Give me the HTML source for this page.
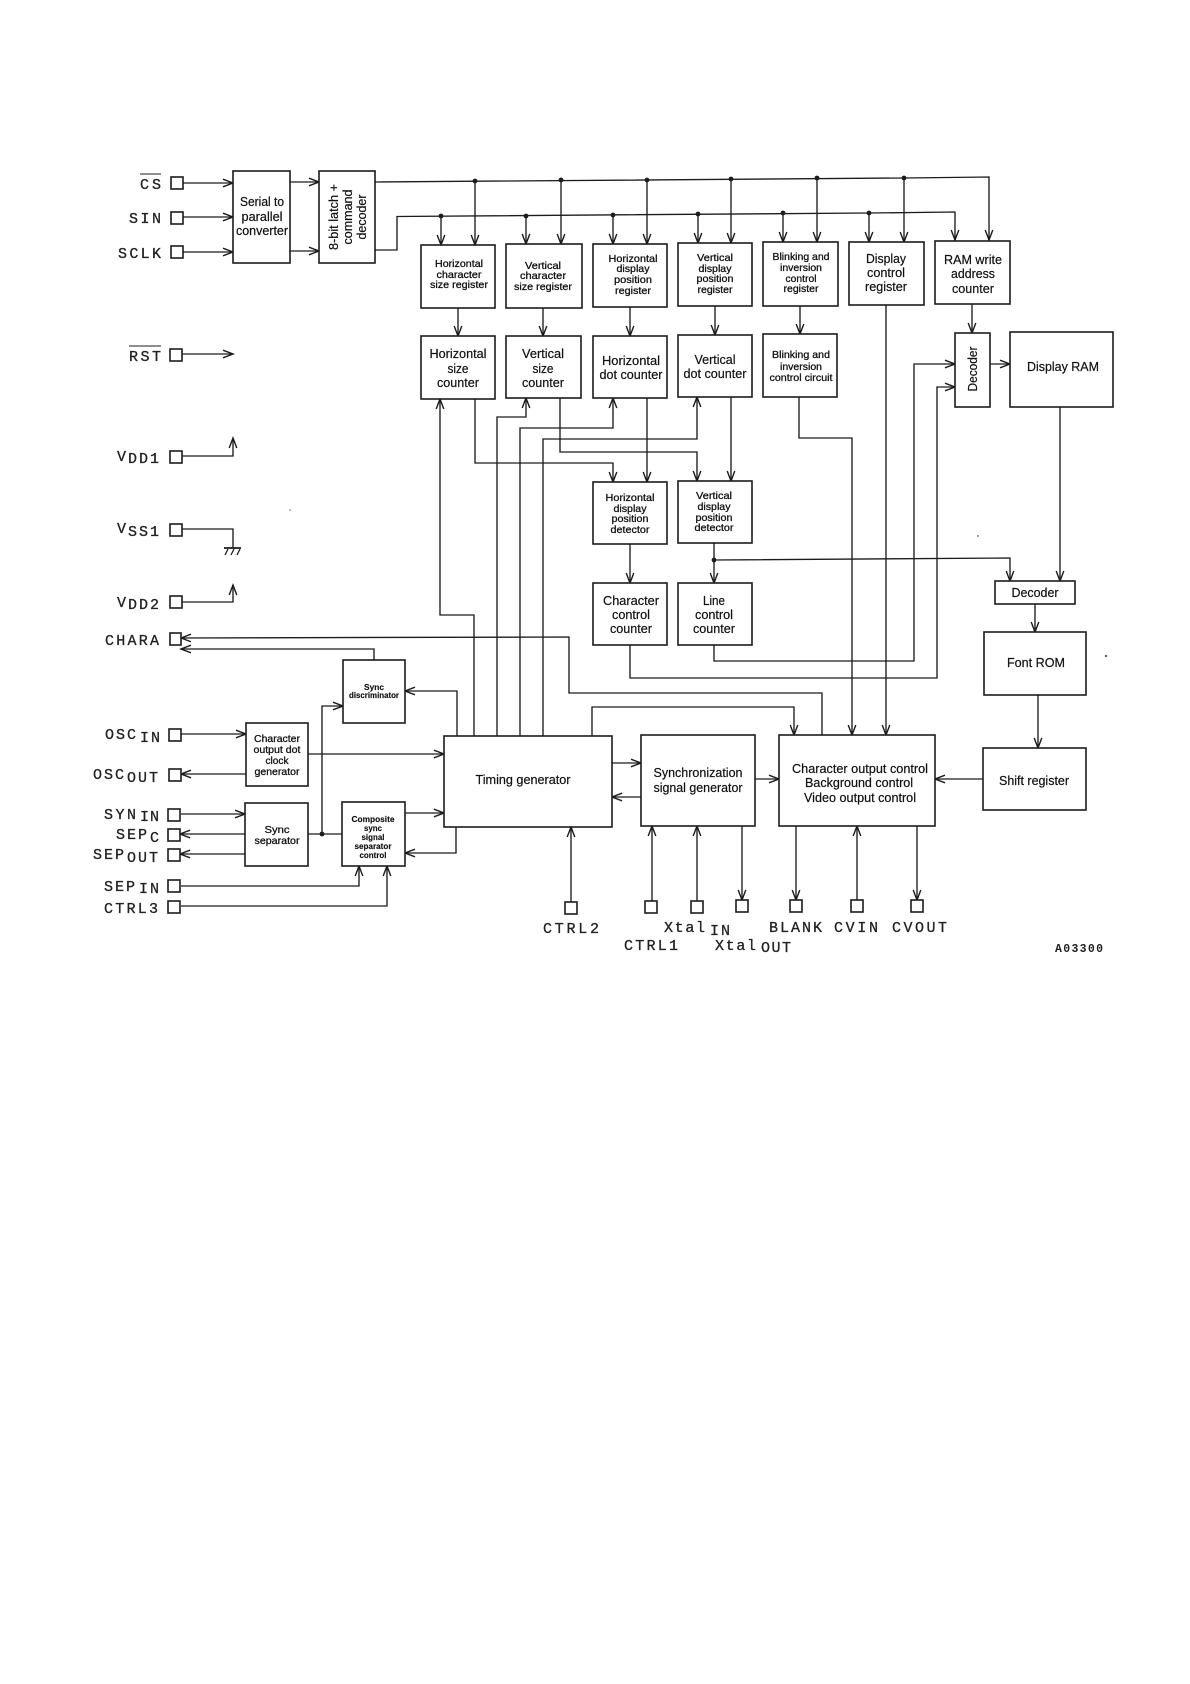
<!DOCTYPE html>
<html>
<head>
<meta charset="utf-8">
<style>
html,body{margin:0;padding:0;background:#fff}
svg{display:block}
.l{fill:none;stroke:#1c1c1c;stroke-width:1.35}
.b{fill:#fff;stroke:#1c1c1c;stroke-width:1.6}
.p{fill:#fff;stroke:#1c1c1c;stroke-width:1.6}
text{font-family:"Liberation Sans",sans-serif;fill:#111;text-anchor:middle}
.a{font-size:12.5px;stroke:#111;stroke-width:.2}
.m{font-size:10.5px;stroke:#111;stroke-width:.3}
.s{font-size:8.5px;font-weight:bold;stroke:#111;stroke-width:.15}
.t{font-family:"Liberation Mono",monospace;font-size:15px;text-anchor:start;fill:#222;stroke:#222;stroke-width:.3}
.z{font-family:"Liberation Mono",monospace;font-size:11.5px;font-weight:bold;text-anchor:start;fill:#222}
</style>
</head>
<body>
<svg xmlns="http://www.w3.org/2000/svg" width="1190" height="1684" viewBox="0 0 1190 1684">
<defs>
<marker id="A" markerUnits="userSpaceOnUse" markerWidth="14" markerHeight="12" refX="11" refY="6" orient="auto">
<path d="M1,2.2 L11,6 L1,9.8" fill="none" stroke="#1c1c1c" stroke-width="1.4"/>
</marker>
</defs>
<rect width="1190" height="1684" fill="#fff"/>

<!-- connectors -->
<g class="l">
<path d="M183,183H233" marker-end="url(#A)"/>
<path d="M183,217H233" marker-end="url(#A)"/>
<path d="M183,252H233" marker-end="url(#A)"/>
<path d="M182,354H233" marker-end="url(#A)"/>
<path d="M290,182H319" marker-end="url(#A)"/>
<path d="M290,251H319" marker-end="url(#A)"/>
<path d="M375,182L904,178L989,177V240" marker-end="url(#A)"/>
<path d="M375,250H397V216.500L869,213L955,212V240" marker-end="url(#A)"/>
<path d="M475,181V245" marker-end="url(#A)"/>
<path d="M441,216V245" marker-end="url(#A)"/>
<path d="M561,180V244" marker-end="url(#A)"/>
<path d="M526,216V244" marker-end="url(#A)"/>
<path d="M647,180V244" marker-end="url(#A)"/>
<path d="M613,215V244" marker-end="url(#A)"/>
<path d="M731,179V243" marker-end="url(#A)"/>
<path d="M698,214V243" marker-end="url(#A)"/>
<path d="M817,178V242" marker-end="url(#A)"/>
<path d="M783,213V242" marker-end="url(#A)"/>
<path d="M904,178V242" marker-end="url(#A)"/>
<path d="M869,213V242" marker-end="url(#A)"/>
<path d="M458,308V336" marker-end="url(#A)"/>
<path d="M543,308V336" marker-end="url(#A)"/>
<path d="M630,307V336" marker-end="url(#A)"/>
<path d="M715,306V335" marker-end="url(#A)"/>
<path d="M800,306V334" marker-end="url(#A)"/>
<path d="M972,304V333" marker-end="url(#A)"/>

<path d="M474,736V615H440V399" marker-end="url(#A)"/>
<path d="M475,399V463H613V482" marker-end="url(#A)"/>
<path d="M497,736V417H526V398" marker-end="url(#A)"/>
<path d="M560,398V452H697V481" marker-end="url(#A)"/>
<path d="M520,736V428H613V398" marker-end="url(#A)"/>
<path d="M647,398V482" marker-end="url(#A)"/>
<path d="M543,736V439H697V397" marker-end="url(#A)"/>
<path d="M731,397V481" marker-end="url(#A)"/>
<path d="M799,397V438H852V735" marker-end="url(#A)"/>
<path d="M886,305V735" marker-end="url(#A)"/>
<path d="M630,544V583" marker-end="url(#A)"/>
<path d="M714,543V583" marker-end="url(#A)"/>
<path d="M714,560L1010,558V581" marker-end="url(#A)"/>
<path d="M1060,407V581" marker-end="url(#A)"/>
<path d="M1035,604V632" marker-end="url(#A)"/>
<path d="M1038,695V748" marker-end="url(#A)"/>
<path d="M983,779H935" marker-end="url(#A)"/>
<path d="M630,645V678H937V387H955" marker-end="url(#A)"/>
<path d="M714,645V661H914V364H955" marker-end="url(#A)"/>
<path d="M990,364H1010" marker-end="url(#A)"/>

<path d="M822,735V693H569V637L181,638" marker-end="url(#A)"/>
<path d="M374,660V649H181" marker-end="url(#A)"/>
<path d="M457,736V691H405" marker-end="url(#A)"/>
<path d="M322,834V706H343" marker-end="url(#A)"/>
<path d="M592,736V707H794V735" marker-end="url(#A)"/>

<path d="M181,734H246" marker-end="url(#A)"/>
<path d="M246,774H181" marker-end="url(#A)"/>
<path d="M181,814H245" marker-end="url(#A)"/>
<path d="M245,834H180" marker-end="url(#A)"/>
<path d="M245,854H180" marker-end="url(#A)"/>
<path d="M181,886H359V866" marker-end="url(#A)"/>
<path d="M181,906H387V866" marker-end="url(#A)"/>
<path d="M308,754H444" marker-end="url(#A)"/>
<path d="M405,813H444" marker-end="url(#A)"/>
<path d="M456,827V853H405" marker-end="url(#A)"/>
<path d="M308,834H342"/>
<path d="M612,763H641" marker-end="url(#A)"/>
<path d="M641,797H612" marker-end="url(#A)"/>
<path d="M755,779H779" marker-end="url(#A)"/>

<path d="M571,902V827" marker-end="url(#A)"/>
<path d="M652,901V826" marker-end="url(#A)"/>
<path d="M697,901V826" marker-end="url(#A)"/>
<path d="M742,826V900" marker-end="url(#A)"/>
<path d="M796,826V900" marker-end="url(#A)"/>
<path d="M857,900V826" marker-end="url(#A)"/>
<path d="M917,826V900" marker-end="url(#A)"/>

<path d="M182,456H233V438" marker-end="url(#A)"/>
<path d="M182,602H233V585" marker-end="url(#A)"/>
<path d="M182,529H233V548"/>
<path d="M224,548H241" stroke-width="1.8"/>
<path d="M228,549L225,555M234,549L231,555M240,549L237,555" stroke-width="1.3"/>
<path d="M140,174H161M129,346H161" stroke-width="1.1"/>
</g>

<!-- junctions -->
<g fill="#1c1c1c">
<circle cx="475" cy="181" r="2.4"/><circle cx="561" cy="180" r="2.4"/><circle cx="647" cy="180" r="2.4"/>
<circle cx="731" cy="179" r="2.4"/><circle cx="817" cy="178" r="2.4"/><circle cx="904" cy="178" r="2.4"/>
<circle cx="441" cy="216" r="2.4"/><circle cx="526" cy="216" r="2.4"/><circle cx="613" cy="215" r="2.4"/>
<circle cx="698" cy="214" r="2.4"/><circle cx="783" cy="213" r="2.4"/><circle cx="869" cy="213" r="2.4"/>
<circle cx="714" cy="560" r="2.4"/><circle cx="322" cy="834" r="2.4"/>
<circle cx="1106" cy="656" r="1"/><circle cx="978" cy="536" r="0.7"/><circle cx="290" cy="510" r="0.6"/>
</g>

<!-- boxes -->
<g class="b">
<rect x="233" y="171" width="57" height="92"/>
<rect x="319" y="171" width="56" height="92"/>
<rect x="421" y="245" width="74" height="63"/>
<rect x="506" y="244" width="76" height="64"/>
<rect x="593" y="244" width="74" height="63"/>
<rect x="678" y="243" width="74" height="63"/>
<rect x="763" y="242" width="75" height="64"/>
<rect x="849" y="242" width="75" height="63"/>
<rect x="935" y="241" width="75" height="63"/>
<rect x="421" y="336" width="74" height="63"/>
<rect x="506" y="336" width="75" height="62"/>
<rect x="593" y="336" width="74" height="62"/>
<rect x="678" y="335" width="74" height="62"/>
<rect x="763" y="334" width="74" height="63"/>
<rect x="955" y="333" width="35" height="74"/>
<rect x="1010" y="332" width="103" height="75"/>
<rect x="593" y="482" width="74" height="62"/>
<rect x="678" y="481" width="74" height="62"/>
<rect x="593" y="583" width="74" height="62"/>
<rect x="678" y="583" width="74" height="62"/>
<rect x="995" y="581" width="80" height="23"/>
<rect x="984" y="632" width="102" height="63"/>
<rect x="983" y="748" width="103" height="62"/>
<rect x="343" y="660" width="62" height="63"/>
<rect x="246" y="723" width="62" height="63"/>
<rect x="245" y="803" width="63" height="63"/>
<rect x="342" y="802" width="63" height="64"/>
<rect x="444" y="736" width="168" height="91"/>
<rect x="641" y="735" width="114" height="91"/>
<rect x="779" y="735" width="156" height="91"/>
</g>

<!-- pads -->
<g class="p">
<rect x="171" y="177" width="12" height="12"/>
<rect x="171" y="212" width="12" height="12"/>
<rect x="171" y="246" width="12" height="12"/>
<rect x="170" y="349" width="12" height="12"/>
<rect x="170" y="451" width="12" height="12"/>
<rect x="170" y="524" width="12" height="12"/>
<rect x="170" y="596" width="12" height="12"/>
<rect x="170" y="633" width="11" height="12"/>
<rect x="169" y="729" width="12" height="12"/>
<rect x="169" y="769" width="12" height="12"/>
<rect x="168" y="809" width="12" height="12"/>
<rect x="168" y="829" width="12" height="12"/>
<rect x="168" y="849" width="12" height="12"/>
<rect x="168" y="880" width="12" height="12"/>
<rect x="168" y="901" width="12" height="12"/>
<rect x="565" y="902" width="12" height="12"/>
<rect x="645" y="901" width="12" height="12"/>
<rect x="691" y="901" width="12" height="12"/>
<rect x="736" y="900" width="12" height="12"/>
<rect x="790" y="900" width="12" height="12"/>
<rect x="851" y="900" width="12" height="12"/>
<rect x="911" y="900" width="12" height="12"/>
</g>

<!-- box text -->
<g>
<text class="a" x="262" y="206" textLength="44" lengthAdjust="spacingAndGlyphs">Serial to</text>
<text class="a" x="262" y="221" textLength="41" lengthAdjust="spacingAndGlyphs">parallel</text>
<text class="a" x="262" y="235" textLength="52" lengthAdjust="spacingAndGlyphs">converter</text>
<text class="a" transform="translate(338,217) rotate(-90)" textLength="66" lengthAdjust="spacingAndGlyphs">8-bit latch +</text>
<text class="a" transform="translate(352,217) rotate(-90)" textLength="55" lengthAdjust="spacingAndGlyphs">command</text>
<text class="a" transform="translate(366,217) rotate(-90)" textLength="45" lengthAdjust="spacingAndGlyphs">decoder</text>

<text class="m" x="459" y="267" textLength="48" lengthAdjust="spacingAndGlyphs">Horizontal</text>
<text class="m" x="459" y="278" textLength="45" lengthAdjust="spacingAndGlyphs">character</text>
<text class="m" x="459" y="288" textLength="58" lengthAdjust="spacingAndGlyphs">size register</text>

<text class="m" x="543" y="269" textLength="36" lengthAdjust="spacingAndGlyphs">Vertical</text>
<text class="m" x="543" y="279" textLength="46" lengthAdjust="spacingAndGlyphs">character</text>
<text class="m" x="543" y="290" textLength="58" lengthAdjust="spacingAndGlyphs">size register</text>

<text class="m" x="633" y="262" textLength="49" lengthAdjust="spacingAndGlyphs">Horizontal</text>
<text class="m" x="633" y="272" textLength="33" lengthAdjust="spacingAndGlyphs">display</text>
<text class="m" x="633" y="283" textLength="38" lengthAdjust="spacingAndGlyphs">position</text>
<text class="m" x="633" y="294" textLength="36" lengthAdjust="spacingAndGlyphs">register</text>

<text class="m" x="715" y="261" textLength="36" lengthAdjust="spacingAndGlyphs">Vertical</text>
<text class="m" x="715" y="272" textLength="33" lengthAdjust="spacingAndGlyphs">display</text>
<text class="m" x="715" y="282" textLength="37" lengthAdjust="spacingAndGlyphs">position</text>
<text class="m" x="715" y="293" textLength="35" lengthAdjust="spacingAndGlyphs">register</text>

<text class="m" x="801" y="260" textLength="57" lengthAdjust="spacingAndGlyphs">Blinking and</text>
<text class="m" x="801" y="271" textLength="42" lengthAdjust="spacingAndGlyphs">inversion</text>
<text class="m" x="801" y="282" textLength="31" lengthAdjust="spacingAndGlyphs">control</text>
<text class="m" x="801" y="292" textLength="35" lengthAdjust="spacingAndGlyphs">register</text>

<text class="a" x="886" y="263" textLength="40" lengthAdjust="spacingAndGlyphs">Display</text>
<text class="a" x="886" y="277" textLength="38" lengthAdjust="spacingAndGlyphs">control</text>
<text class="a" x="886" y="291" textLength="42" lengthAdjust="spacingAndGlyphs">register</text>

<text class="a" x="973" y="264" textLength="58" lengthAdjust="spacingAndGlyphs">RAM write</text>
<text class="a" x="973" y="278" textLength="44" lengthAdjust="spacingAndGlyphs">address</text>
<text class="a" x="973" y="293" textLength="42" lengthAdjust="spacingAndGlyphs">counter</text>

<text class="a" x="458" y="358" textLength="57" lengthAdjust="spacingAndGlyphs">Horizontal</text>
<text class="a" x="458" y="373" textLength="21" lengthAdjust="spacingAndGlyphs">size</text>
<text class="a" x="458" y="387" textLength="42" lengthAdjust="spacingAndGlyphs">counter</text>

<text class="a" x="543" y="358" textLength="42" lengthAdjust="spacingAndGlyphs">Vertical</text>
<text class="a" x="543" y="373" textLength="21" lengthAdjust="spacingAndGlyphs">size</text>
<text class="a" x="543" y="387" textLength="42" lengthAdjust="spacingAndGlyphs">counter</text>

<text class="a" x="631" y="365" textLength="58" lengthAdjust="spacingAndGlyphs">Horizontal</text>
<text class="a" x="631" y="379" textLength="63" lengthAdjust="spacingAndGlyphs">dot counter</text>

<text class="a" x="715" y="364" textLength="41" lengthAdjust="spacingAndGlyphs">Vertical</text>
<text class="a" x="715" y="378" textLength="63" lengthAdjust="spacingAndGlyphs">dot counter</text>

<text class="m" x="801" y="358" textLength="58" lengthAdjust="spacingAndGlyphs">Blinking and</text>
<text class="m" x="801" y="370" textLength="42" lengthAdjust="spacingAndGlyphs">inversion</text>
<text class="m" x="801" y="381" textLength="63" lengthAdjust="spacingAndGlyphs">control circuit</text>

<text class="a" transform="translate(977,369) rotate(-90)" textLength="45" lengthAdjust="spacingAndGlyphs">Decoder</text>
<text class="a" x="1063" y="371" textLength="72" lengthAdjust="spacingAndGlyphs">Display RAM</text>

<text class="m" x="630" y="501" textLength="49" lengthAdjust="spacingAndGlyphs">Horizontal</text>
<text class="m" x="630" y="512" textLength="33" lengthAdjust="spacingAndGlyphs">display</text>
<text class="m" x="630" y="522" textLength="37" lengthAdjust="spacingAndGlyphs">position</text>
<text class="m" x="630" y="533" textLength="39" lengthAdjust="spacingAndGlyphs">detector</text>

<text class="m" x="714" y="499" textLength="36" lengthAdjust="spacingAndGlyphs">Vertical</text>
<text class="m" x="714" y="510" textLength="33" lengthAdjust="spacingAndGlyphs">display</text>
<text class="m" x="714" y="521" textLength="37" lengthAdjust="spacingAndGlyphs">position</text>
<text class="m" x="714" y="531" textLength="39" lengthAdjust="spacingAndGlyphs">detector</text>

<text class="a" x="631" y="605" textLength="56" lengthAdjust="spacingAndGlyphs">Character</text>
<text class="a" x="631" y="619" textLength="38" lengthAdjust="spacingAndGlyphs">control</text>
<text class="a" x="631" y="633" textLength="42" lengthAdjust="spacingAndGlyphs">counter</text>

<text class="a" x="714" y="605" textLength="22" lengthAdjust="spacingAndGlyphs">Line</text>
<text class="a" x="714" y="619" textLength="38" lengthAdjust="spacingAndGlyphs">control</text>
<text class="a" x="714" y="633" textLength="42" lengthAdjust="spacingAndGlyphs">counter</text>

<text class="a" x="1035" y="597" textLength="47" lengthAdjust="spacingAndGlyphs">Decoder</text>
<text class="a" x="1036" y="667" textLength="58" lengthAdjust="spacingAndGlyphs">Font ROM</text>
<text class="a" x="1034" y="785" textLength="70" lengthAdjust="spacingAndGlyphs">Shift register</text>

<text class="s" x="374" y="690" textLength="20" lengthAdjust="spacingAndGlyphs">Sync</text>
<text class="s" x="374" y="698" textLength="50" lengthAdjust="spacingAndGlyphs">discriminator</text>

<text class="m" x="277" y="742" textLength="46" lengthAdjust="spacingAndGlyphs">Character</text>
<text class="m" x="277" y="753" textLength="47" lengthAdjust="spacingAndGlyphs">output dot</text>
<text class="m" x="277" y="764" textLength="23" lengthAdjust="spacingAndGlyphs">clock</text>
<text class="m" x="277" y="775" textLength="45" lengthAdjust="spacingAndGlyphs">generator</text>

<text class="m" x="277" y="833" textLength="25" lengthAdjust="spacingAndGlyphs">Sync</text>
<text class="m" x="277" y="844" textLength="45" lengthAdjust="spacingAndGlyphs">separator</text>

<text class="s" x="373" y="822" textLength="43" lengthAdjust="spacingAndGlyphs">Composite</text>
<text class="s" x="373" y="831" textLength="18" lengthAdjust="spacingAndGlyphs">sync</text>
<text class="s" x="373" y="840" textLength="23" lengthAdjust="spacingAndGlyphs">signal</text>
<text class="s" x="373" y="849" textLength="37" lengthAdjust="spacingAndGlyphs">separator</text>
<text class="s" x="373" y="858" textLength="27" lengthAdjust="spacingAndGlyphs">control</text>

<text class="a" x="523" y="784" textLength="95" lengthAdjust="spacingAndGlyphs">Timing generator</text>
<text class="a" x="698" y="777" textLength="89" lengthAdjust="spacingAndGlyphs">Synchronization</text>
<text class="a" x="698" y="792" textLength="89" lengthAdjust="spacingAndGlyphs">signal generator</text>
<text class="a" x="860" y="773" textLength="136" lengthAdjust="spacingAndGlyphs">Character output control</text>
<text class="a" x="859" y="787" textLength="108" lengthAdjust="spacingAndGlyphs">Background control</text>
<text class="a" x="860" y="802" textLength="112" lengthAdjust="spacingAndGlyphs">Video output control</text>
</g>

<!-- pin labels -->
<text class="t" x="140" y="189" textLength="21">CS</text>
<text class="t" x="129" y="223" textLength="32">SIN</text>
<text class="t" x="118" y="258" textLength="43">SCLK</text>
<text class="t" x="129" y="361" textLength="32">RST</text>

<text class="t" x="117" y="461" textLength="8">V</text><text class="t" x="128" y="463" textLength="31">DD1</text>
<text class="t" x="117" y="533" textLength="8">V</text><text class="t" x="128" y="536" textLength="31">SS1</text>
<text class="t" x="117" y="607" textLength="8">V</text><text class="t" x="128" y="609" textLength="31">DD2</text>
<text class="t" x="105" y="645" textLength="54">CHARA</text>

<text class="t" x="105" y="739" textLength="31">OSC</text><text class="t" x="140" y="742" textLength="20">IN</text>
<text class="t" x="93" y="779" textLength="31">OSC</text><text class="t" x="127" y="782" textLength="31">OUT</text>
<text class="t" x="104" y="819" textLength="32">SYN</text><text class="t" x="140" y="821" textLength="19">IN</text>
<text class="t" x="116" y="839" textLength="31">SEP</text><text class="t" x="150" y="842" textLength="8">C</text>
<text class="t" x="93" y="859" textLength="31">SEP</text><text class="t" x="127" y="862" textLength="31">OUT</text>
<text class="t" x="104" y="891" textLength="31">SEP</text><text class="t" x="139" y="893" textLength="20">IN</text>
<text class="t" x="104" y="913" textLength="54">CTRL3</text>

<text class="t" x="543" y="933" textLength="56">CTRL2</text>
<text class="t" x="664" y="932" textLength="41">Xtal</text><text class="t" x="710" y="935" textLength="20">IN</text>
<text class="t" x="624" y="950" textLength="54">CTRL1</text>
<text class="t" x="715" y="950" textLength="41">Xtal</text><text class="t" x="761" y="952" textLength="30">OUT</text>
<text class="t" x="769" y="932" textLength="53">BLANK</text>
<text class="t" x="834" y="932" textLength="44">CVIN</text>
<text class="t" x="892" y="932" textLength="55">CVOUT</text>
<text class="z" x="1055" y="952" textLength="48">A03300</text>
</svg>
</body>
</html>
